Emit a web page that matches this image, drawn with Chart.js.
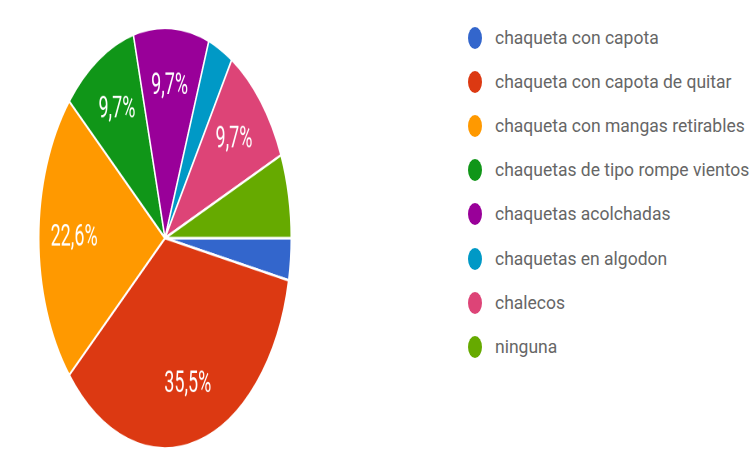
<!DOCTYPE html>
<html lang="es">
<head>
<meta charset="utf-8">
<title>Tipos de chaqueta</title>
<script src="https://cdn.jsdelivr.net/npm/chart.js@4"></script>
<style>
    html, body {
        margin: 0;
        padding: 0;
        background: #ffffff;
    }
    .page {
        position: relative;
        width: 752px;
        height: 457px;
        overflow: hidden;
    }
    .pie-box {
        position: absolute;
        left: 0;
        top: 0;
        width: 330px;
        height: 275px;
        transform: scaleY(1.665);
        transform-origin: 0 0;
    }
    .legend {
        position: absolute;
        left: 468px;
        top: 16px;
        margin: 0;
        padding: 0;
        list-style: none;
        font-family: Roboto, "Noto Sans", sans-serif;
        font-size: 17.5px;
        color: #666666;
    }
    .legend li {
        display: flex;
        align-items: center;
        height: 44.1px;
        white-space: nowrap;
    }
    .legend .dot {
        display: inline-block;
        width: 14px;
        height: 22px;
        border-radius: 50%;
        margin-right: 13px;
    }
</style>
</head>
<body>
<div class="page">
    <div class="pie-box"><canvas id="jacketChart"></canvas></div>
    <ul class="legend" id="jacketLegend"></ul>
</div>
<script>
const categories = [
    'chaqueta con capota',
    'chaqueta con capota de quitar',
    'chaqueta con mangas retirables',
    'chaquetas de tipo rompe vientos',
    'chaquetas acolchadas',
    'chaquetas en algodon',
    'chalecos',
    'ninguna'
];
const responses = [1, 11, 7, 3, 3, 1, 3, 2];
const percentLabels = ['3,2%', '35,5%', '22,6%', '9,7%', '9,7%', '3,2%', '9,7%', '6,5%'];
const sliceColors = ['#3366cc', '#dc3912', '#ff9900', '#109618', '#990099', '#0099c6', '#dd4477', '#66aa00'];

// only slices above this share get a label inside
const LABEL_MIN_SHARE = 0.08;

// writes the percentage inside each large enough slice
const sliceLabels = {
    id: 'sliceLabels',
    afterDatasetsDraw(chart) {
        const ctx = chart.ctx;
        const meta = chart.getDatasetMeta(0);
        const total = responses.reduce((a, b) => a + b, 0);

        ctx.save();
        ctx.font = '18px Roboto, "Noto Sans", sans-serif';
        ctx.fillStyle = '#ffffff';
        ctx.textAlign = 'center';
        ctx.textBaseline = 'middle';

        meta.data.forEach((arc, i) => {
            if (responses[i] / total < LABEL_MIN_SHARE) {
                return;
            }
            const p = arc.getProps(['x', 'y', 'startAngle', 'endAngle', 'outerRadius'], true);
            const mid = (p.startAngle + p.endAngle) / 2;
            const dist = p.outerRadius * 0.72;
            ctx.fillText(percentLabels[i], p.x + Math.cos(mid) * dist, p.y + Math.sin(mid) * dist);
        });
        ctx.restore();
    }
};

function buildLegend(chart) {
    const list = document.getElementById('jacketLegend');
    list.innerHTML = '';

    const items = chart.options.plugins.legend.labels.generateLabels(chart);
    items.forEach(item => {
        const li = document.createElement('li');
        li.innerHTML = `<span class="dot" style="background:${item.fillStyle}"></span>${item.text}`;
        list.appendChild(li);
    });
}

function drawChart() {
    const ctx = document.getElementById('jacketChart').getContext('2d');

    const chart = new Chart(ctx, {
        type: 'pie',
        data: {
            labels: categories,
            datasets: [{
                data: responses,
                backgroundColor: sliceColors,
                borderColor: '#ffffff',
                borderWidth: 1.5
            }]
        },
        options: {
            responsive: true,
            maintainAspectRatio: false,
            animation: false,
            devicePixelRatio: 2,
            rotation: 90,
            layout: {
                padding: { left: 38, right: 38, top: 16, bottom: 5 }
            },
            plugins: {
                legend: { display: false },
                tooltip: { enabled: false }
            }
        },
        plugins: [sliceLabels]
    });

    buildLegend(chart);
}

document.addEventListener('DOMContentLoaded', drawChart);
</script>
</body>
</html>
